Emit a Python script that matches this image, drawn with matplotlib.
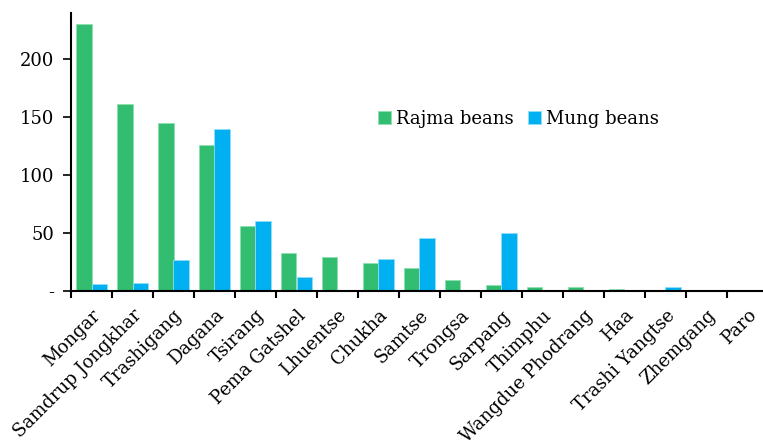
import numpy as np
import matplotlib
matplotlib.use("Agg")
import matplotlib.pyplot as plt

plt.rcParams['font.family'] = ['DejaVu Serif']

districts = ["Mongar", "Samdrup Jongkhar", "Trashigang", "Dagana", "Tsirang",
             "Pema Gatshel", "Lhuentse", "Chukha", "Samtse", "Trongsa", "Sarpang",
             "Thimphu", "Wangdue Phodrang", "Haa", "Trashi Yangtse", "Zhemgang", "Paro"]
rajma = [230, 161, 145, 126, 56, 33, 29, 24, 20, 9.5, 5.4, 3.4, 3.3, 2, 1, 1, 0.5]
mung = [6, 7, 27, 140, 60.5, 12, 0, 28, 45.7, 0, 50, 0, 0, 0, 3.4, 0, 0]
yticks = [0, 50, 100, 150, 200]
ytick_labels = ["-", "50", "100", "150", "200"]

green = "#33bd70"
blue = "#00b0f0"

fig = plt.figure(figsize=(7.63, 4.42), dpi=100)
ax = fig.add_axes([71/763, 1-291/442, 697/763, (291-12.7)/442])

x = np.arange(len(districts))
w = 0.39
ax.bar(x - w/2, rajma, w, color=green, edgecolor="#8fe0b0", lw=0.6, label="Rajma beans")
ax.bar(x + w/2, mung, w, color=blue, edgecolor="#8fdcf7", lw=0.6, label="Mung beans")

ax.set_xlim(-0.5, len(districts) - 0.5)
ax.set_ylim(0, 240)
ax.set_yticks(yticks)
ax.set_yticklabels(ytick_labels, fontsize=13)
ax.set_xticks(np.arange(len(districts) + 1) - 0.5)
ax.set_xticklabels([])
ax.set_xticks(x, minor=True)
ax.set_xticklabels(districts, minor=True, rotation=45, ha="right",
                   rotation_mode="anchor", fontsize=13)
ax.tick_params(axis="x", which="minor", length=0, pad=11)
ax.tick_params(axis="x", which="major", length=5, width=1.5, direction="out")
ax.tick_params(axis="y", length=6, width=1.2, pad=6)
for s in ["top", "right"]:
    ax.spines[s].set_visible(False)
for s in ["left", "bottom"]:
    ax.spines[s].set_linewidth(1.5)

fig.legend(loc="center left", bbox_to_anchor=(362/763, 1-119/442), frameon=False,
           fontsize=13, ncol=2, handlelength=0.7, handleheight=0.7,
           handletextpad=0.3, columnspacing=0.8)

fig.savefig("out.png", dpi=100)
